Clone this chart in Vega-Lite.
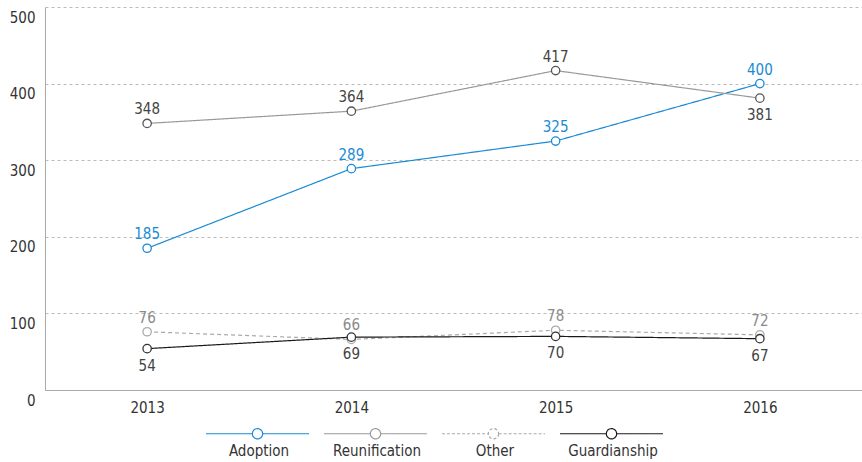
{
  "$schema": "https://vega.github.io/schema/vega-lite/v6.json",
  "width": 817,
  "height": 383,
  "autosize": {"type": "none"},
  "padding": {"left": 45, "top": 7, "right": 0, "bottom": 72},
  "background": "white",
  "config": {
    "font": "Liberation Sans Narrow, DejaVu Sans Condensed, Roboto, sans-serif",
    "view": {"stroke": null},
    "legend": {
      "direction": "horizontal",
      "title": null,
      "symbolType": "M-1,0H-0.1M0.1,0H1M0.1,0A0.1,0.1 0 1,1 -0.1,0A0.1,0.1 0 1,1 0.1,0Z",
      "symbolSize": 10609,
      "symbolStrokeWidth": 1.2,
      "symbolFillColor": "white",
      "labelOffset": -51,
      "labelAlign": "center",
      "columnPadding": 9,
      "gridAlign": "all",
      "labelFontSize": 15,
      "labelColor": "#333333"
    }
  },
  "data": {
    "values": [
      {"series": "Adoption", "year": "2013", "value": 185},
      {"series": "Adoption", "year": "2014", "value": 289},
      {"series": "Adoption", "year": "2015", "value": 325},
      {"series": "Adoption", "year": "2016", "value": 400},
      {"series": "Reunification", "year": "2013", "value": 348},
      {"series": "Reunification", "year": "2014", "value": 364},
      {"series": "Reunification", "year": "2015", "value": 417},
      {"series": "Reunification", "year": "2016", "value": 381},
      {"series": "Other", "year": "2013", "value": 76},
      {"series": "Other", "year": "2014", "value": 66},
      {"series": "Other", "year": "2015", "value": 78},
      {"series": "Other", "year": "2016", "value": 72},
      {"series": "Guardianship", "year": "2013", "value": 54},
      {"series": "Guardianship", "year": "2014", "value": 69},
      {"series": "Guardianship", "year": "2015", "value": 70},
      {"series": "Guardianship", "year": "2016", "value": 67}
    ]
  },
  "encoding": {
    "x": {
      "field": "year", "type": "ordinal",
      "scale": {"type": "point", "padding": 0.5},
      "axis": {"title": null, "labelAngle": 0, "ticks": false, "grid": false, "domainColor": "#aaaaaa", "labelPadding": 10, "labelFontSize": 15, "labelColor": "#333333"}
    },
    "y": {
      "field": "value", "type": "quantitative",
      "scale": {"domain": [0, 500], "nice": false},
      "axis": {"title": null, "values": [0, 100, 200, 300, 400, 500], "ticks": false, "grid": true, "gridDash": [3, 3], "gridColor": "#bbbbbb", "domainColor": "#aaaaaa", "labelBaseline": "top", "labelOffset": 3, "labelPadding": 10, "labelFontSize": 15, "labelColor": "#333333"}
    }
  },
  "resolve": {"scale": {"stroke": "independent"}},
  "layer": [
    {
      "mark": {"type": "line", "strokeWidth": 1.2},
      "encoding": {
        "stroke": {"field": "series", "type": "nominal", "sort": ["Adoption", "Reunification", "Other", "Guardianship"],
          "scale": {"domain": ["Adoption", "Reunification", "Other", "Guardianship"], "range": ["#1a8ad4", "#999999", "#aaaaaa", "#1a1a1a"]},
          "legend": {"orient": "none", "legendX": 160, "legendY": 374, "encode": {"labels": {"update": {"dy": {"value": 17}}}, "symbols": {"update": {"fill": {"value": "white"}, "strokeDash": {"signal": "datum.value == 'Other' ? [3, 2] : [1, 0]"}}}}}},
        "strokeDash": {"field": "series", "type": "nominal", "legend": null,
          "scale": {"domain": ["Adoption", "Reunification", "Other", "Guardianship"], "range": [[1, 0], [1, 0], [4, 3], [1, 0]]}}
      }
    },
    {
      "mark": {"type": "point", "filled": false, "fill": "white", "size": 70, "strokeWidth": 1.3, "opacity": 1},
      "encoding": {
        "stroke": {"field": "series", "type": "nominal", "legend": null,
          "scale": {"domain": ["Adoption", "Reunification", "Other", "Guardianship"], "range": ["#1a8ad4", "#555555", "#aaaaaa", "#333333"]}}
      }
    },
    {
      "transform": [{"filter": "!(datum.series == 'Guardianship' || (datum.series == 'Reunification' && datum.year == '2016'))"}],
      "mark": {"type": "text", "dy": -14, "fontSize": 15, "baseline": "middle"},
      "encoding": {
        "text": {"field": "value", "type": "quantitative"},
        "fill": {"field": "series", "type": "nominal", "legend": null,
          "scale": {"domain": ["Adoption", "Reunification", "Other", "Guardianship"], "range": ["#1a8ad4", "#444444", "#8a8a8a", "#444444"]}}
      }
    },
    {
      "transform": [{"filter": "datum.series == 'Guardianship' || (datum.series == 'Reunification' && datum.year == '2016')"}],
      "mark": {"type": "text", "dy": 17, "fontSize": 15, "baseline": "middle"},
      "encoding": {
        "text": {"field": "value", "type": "quantitative"},
        "fill": {"field": "series", "type": "nominal", "legend": null,
          "scale": {"domain": ["Adoption", "Reunification", "Other", "Guardianship"], "range": ["#1a8ad4", "#444444", "#8a8a8a", "#444444"]}}
      }
    }
  ]
}
